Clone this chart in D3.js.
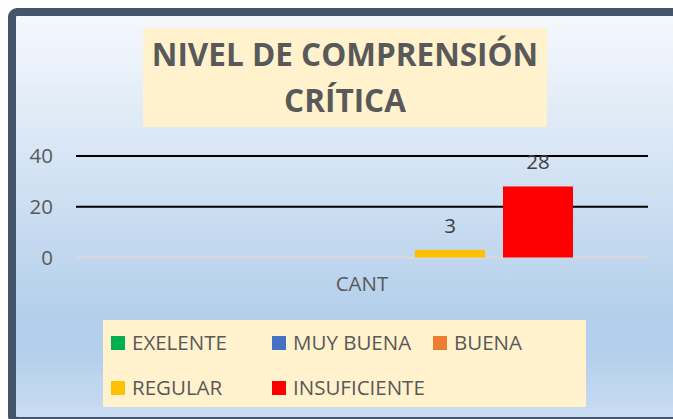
<!DOCTYPE html>
<html>
<head>
<meta charset="utf-8">
<script src="https://cdn.jsdelivr.net/npm/d3@7"></script>
<style>
  html, body { margin: 0; padding: 0; background: #ffffff; }
  svg { display: block; }
  text { font-family: "Open Sans", sans-serif; }
</style>
</head>
<body>
<svg id="chart" width="673" height="419"></svg>
<script>
const titleLines = ["NIVEL DE COMPRENSIÓN", "CRÍTICA"];
const categories = ["CANT"];
const seriesNames = ["EXELENTE", "MUY BUENA", "BUENA", "REGULAR", "INSUFICIENTE"];
const seriesColors = ["#00B050", "#4472C4", "#ED7D31", "#FFC000", "#FF0000"];
const seriesValues = [null, null, null, 3, 28];
const yTicks = [0, 20, 40];

const FONT = "'Open Sans', sans-serif";
const svg = d3.select("#chart");

// background gradient
const defs = svg.append("defs");
const grad = defs.append("linearGradient").attr("id", "bg")
  .attr("x1", 0).attr("y1", 0).attr("x2", 0).attr("y2", 1);
[[0, "#F6F9FD"], [0.74, "#B4CFEB"], [0.83, "#B4CFEB"], [1, "#CADDF2"]].forEach(s =>
  grad.append("stop").attr("offset", s[0]).attr("stop-color", s[1]));

svg.append("rect")
  .attr("x", 12).attr("y", 12).attr("width", 690).attr("height", 409)
  .attr("rx", 5)
  .attr("fill", "url(#bg)")
  .attr("stroke", "#44546A").attr("stroke-width", 8);

// title
svg.append("rect").attr("x", 143).attr("y", 28).attr("width", 404).attr("height", 99)
  .attr("fill", "#FFF2CC");
svg.selectAll("text.title").data(titleLines).join("text")
  .attr("class", "title")
  .attr("x", 345).attr("y", (d, i) => 66 + i * 46)
  .attr("text-anchor", "middle")
  .attr("font-size", 31.5).attr("font-weight", "bold")
  .attr("fill", "#595959")
  .text(d => d);

// scales
const plotLeft = 76, plotRight = 648;
const y = d3.scaleLinear().domain([0, 40]).range([257.5, 156]);
const x0 = d3.scaleBand().domain(categories).range([plotLeft, plotRight])
  .paddingInner(0).paddingOuter(0.1777);
const x1 = d3.scaleBand().domain(seriesNames).range([0, x0.bandwidth()])
  .paddingInner(0.2045).paddingOuter(0);
const color = d3.scaleOrdinal().domain(seriesNames).range(seriesColors);

// gridlines
svg.selectAll("line.grid").data(yTicks).join("line")
  .attr("class", "grid")
  .attr("x1", plotLeft).attr("x2", plotRight)
  .attr("y1", d => y(d)).attr("y2", d => y(d))
  .attr("stroke", d => d === 0 ? "#D9D9D9" : "#000000")
  .attr("stroke-width", 2);

// y axis labels
const yAxis = d3.axisLeft(y).tickValues(yTicks).tickSize(0).tickPadding(0);
const gy = svg.append("g").attr("transform", "translate(53,0)").call(yAxis);
gy.select(".domain").remove();
gy.selectAll("text")
  .attr("font-size", 20.5).attr("fill", "#595959")
  .style("font-family", FONT);

// x axis label
const xAxis = d3.axisBottom(x0).tickSize(0).tickPadding(0);
const gx = svg.append("g").attr("transform", "translate(0,276)").call(xAxis);
gx.select(".domain").remove();
gx.selectAll("text")
  .attr("font-size", 20.5).attr("fill", "#595959")
  .style("font-family", FONT);

// bars
const data = [];
categories.forEach(c => seriesNames.forEach((s, i) => data.push({ c, s, v: seriesValues[i] })));
const shown = data.filter(d => d.v !== null);
svg.selectAll("rect.bar").data(shown).join("rect")
  .attr("class", "bar")
  .attr("x", d => x0(d.c) + x1(d.s))
  .attr("width", x1.bandwidth())
  .attr("y", d => y(d.v))
  .attr("height", d => y(0) - y(d.v))
  .attr("fill", d => color(d.s));

svg.selectAll("text.val").data(shown).join("text")
  .attr("class", "val")
  .attr("x", d => x0(d.c) + x1(d.s) + x1.bandwidth() / 2)
  .attr("y", d => y(d.v) - 17)
  .attr("text-anchor", "middle")
  .attr("font-size", 20.5).attr("fill", "#404040")
  .text(d => d.v);

// legend
svg.append("rect").attr("x", 103).attr("y", 320).attr("width", 483).attr("height", 87)
  .attr("fill", "#FFF2CC");
const legCols = [111, 272, 433];
const legRows = [343, 388];
const leg = svg.selectAll("g.leg").data(seriesNames).join("g")
  .attr("class", "leg")
  .attr("transform", (d, i) => `translate(${legCols[i % 3]},${legRows[Math.floor(i / 3)]})`);
leg.append("rect").attr("x", 0).attr("y", -7).attr("width", 14).attr("height", 14)
  .attr("fill", d => color(d));
leg.append("text").attr("x", 21).attr("y", 7)
  .attr("font-size", 20.5).attr("fill", "#595959")
  .text(d => d);
</script>
</body>
</html>
